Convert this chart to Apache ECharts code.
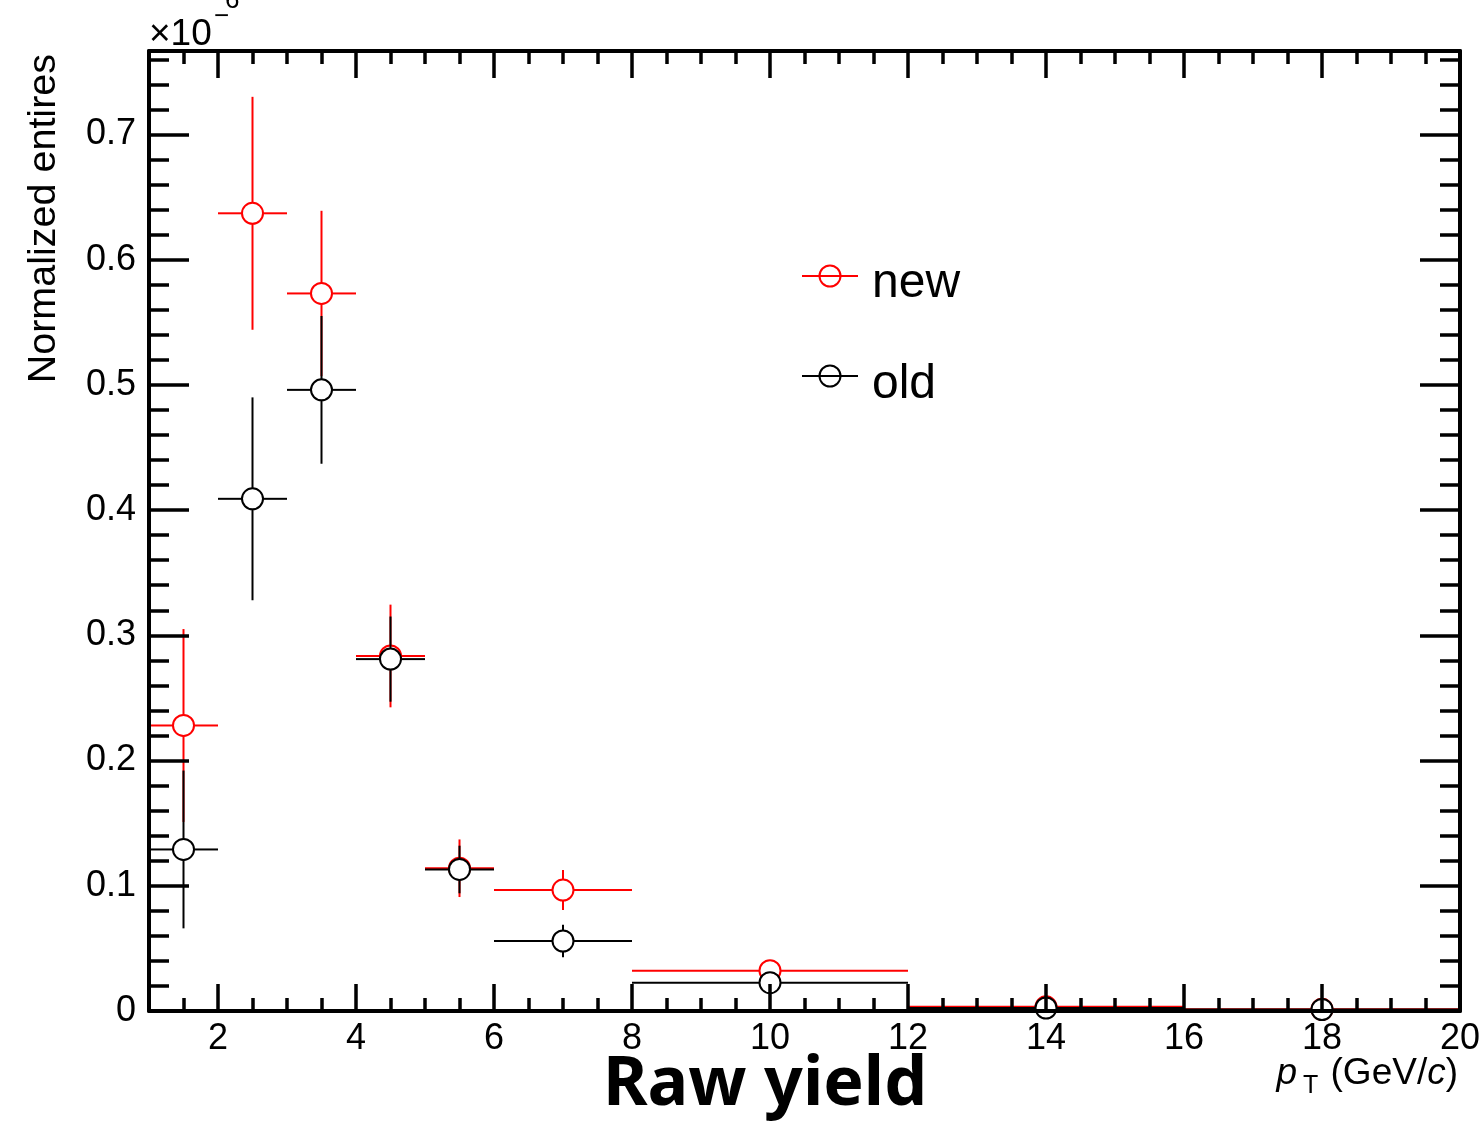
<!DOCTYPE html>
<html>
<head>
<meta charset="utf-8">
<script src="https://cdn.jsdelivr.net/npm/echarts@6/dist/echarts.min.js"></script>
<style>
  html, body { margin: 0; padding: 0; background: #fff; }
  #chart { width: 1481px; height: 1128px; }
</style>
</head>
<body>
<div id="chart"></div>
<script>
// ---- data (pT bins in GeV/c, values in units of 1e-6) ----
const binLow    = [1, 2, 3, 4, 5, 6, 8, 12, 16];
const binHigh   = [2, 3, 4, 5, 6, 8, 12, 16, 20];
const binCenter = [1.5, 2.5, 3.5, 4.5, 5.5, 7, 10, 14, 18];

const newValues = [0.228, 0.637, 0.573, 0.2835, 0.1140, 0.0966, 0.0322, 0.0033, 0.0013];
const newErrors = [0.077, 0.093, 0.066, 0.041, 0.023, 0.016, 0.004, 0.001, 0.0005];
const oldValues = [0.129, 0.409, 0.496, 0.2810, 0.1130, 0.0559, 0.0226, 0.0024, 0.0012];
const oldErrors = [0.063, 0.081, 0.059, 0.034, 0.019, 0.013, 0.003, 0.001, 0.0005];

const xTickLabels = [2, 4, 6, 8, 10, 12, 14, 16, 18, 20];
const xMinorTicks = [1.5, 2.5, 3, 3.5, 4.5, 5, 5.5, 6.5, 7, 7.5, 8.5, 9, 9.5, 10.5, 11, 11.5,
                     12.5, 13, 13.5, 14.5, 15, 15.5, 16.5, 17, 17.5, 18.5, 19, 19.5];
const yTickLabels = [0, 0.1, 0.2, 0.3, 0.4, 0.5, 0.6, 0.7];
const yMinorTicks = [0.02, 0.04, 0.06, 0.08, 0.12, 0.14, 0.16, 0.18, 0.22, 0.24, 0.26, 0.28,
                     0.32, 0.34, 0.36, 0.38, 0.42, 0.44, 0.46, 0.48, 0.52, 0.54, 0.56, 0.58,
                     0.62, 0.64, 0.66, 0.68, 0.72, 0.74, 0.76];

const seriesNames = ['new', 'old'];
const seriesColors = ['#ff0000', '#000000'];

function buildData(values, errors) {
  return binCenter.map((c, i) => [c, values[i], binLow[i], binHigh[i], errors[i]]);
}

const R = 10.5;
function makeRender(color) {
  return function (params, api) {
    const xc = api.value(0), y = api.value(1), xl = api.value(2), xh = api.value(3), e = api.value(4);
    const c = api.coord([xc, y]);
    const pl = api.coord([xl, y]);
    const ph = api.coord([xh, y]);
    const pt = api.coord([xc, y + e]);
    const pb = api.coord([xc, Math.max(0, y - e)]);
    const ls = { stroke: color, lineWidth: 2 };
    const children = [];
    if (pl[0] < c[0] - R) children.push({ type: 'line', shape: { x1: pl[0], y1: c[1], x2: c[0] - R, y2: c[1] }, style: ls });
    if (ph[0] > c[0] + R) children.push({ type: 'line', shape: { x1: c[0] + R, y1: c[1], x2: ph[0], y2: c[1] }, style: ls });
    if (pt[1] < c[1] - R) children.push({ type: 'line', shape: { x1: c[0], y1: c[1] - R, x2: c[0], y2: pt[1] }, style: ls });
    if (pb[1] > c[1] + R) children.push({ type: 'line', shape: { x1: c[0], y1: c[1] + R, x2: c[0], y2: pb[1] }, style: ls });
    children.push({ type: 'circle', shape: { cx: c[0], cy: c[1], r: R }, style: { fill: '#fff', stroke: color, lineWidth: 2 } });
    return { type: 'group', children: children };
  };
}

const FONT = 'Liberation Sans, Arial, Helvetica, sans-serif';
const axisBlack = { color: '#000', width: 4 };

function xAx(position, ticks, len, line, labels) {
  return {
    type: 'value', position: position, min: 1, max: 20, z: 10,
    axisLine: { show: line, onZero: false, lineStyle: axisBlack },
    axisTick: { show: true, inside: true, length: len, customValues: ticks, lineStyle: { color: '#000', width: 3.5 } },
    axisLabel: labels ? { show: true, customValues: xTickLabels, fontSize: 36, fontFamily: FONT, color: '#000', margin: 10,
                          formatter: v => String(v) } : { show: false },
    splitLine: { show: false }
  };
}
function yAx(position, ticks, len, line, labels) {
  return {
    type: 'value', position: position, min: 0, max: 0.7666, z: 10,
    axisLine: { show: line, onZero: false, lineStyle: axisBlack },
    axisTick: { show: true, inside: true, length: len, customValues: ticks, lineStyle: { color: '#000', width: 3.5 } },
    axisLabel: labels ? { show: true, customValues: yTickLabels, fontSize: 36, fontFamily: FONT, color: '#000', margin: 13,
                          formatter: v => (v === 0 ? '0' : v.toFixed(1)) } : { show: false },
    splitLine: { show: false }
  };
}

const chart = echarts.init(document.getElementById('chart'), null, { renderer: 'canvas' });

const option = {
  backgroundColor: '#fff',
  animation: false,
  grid: { left: 149, right: 21, top: 51, bottom: 117, containLabel: false, outerBoundsMode: 'none' },
  xAxis: [
    xAx('bottom', xTickLabels, 27, true, true),
    xAx('bottom', xMinorTicks, 13, false, false),
    xAx('top', xTickLabels, 27, true, false),
    xAx('top', xMinorTicks, 13, false, false)
  ],
  yAxis: [
    yAx('left', yTickLabels, 40, true, true),
    yAx('left', yMinorTicks, 20, false, false),
    yAx('right', yTickLabels, 40, true, false),
    yAx('right', yMinorTicks, 20, false, false)
  ],
  series: [
    { name: seriesNames[0], type: 'custom', xAxisIndex: 0, yAxisIndex: 0, clip: false, z: 2,
      renderItem: makeRender(seriesColors[0]), data: buildData(newValues, newErrors) },
    { name: seriesNames[1], type: 'custom', xAxisIndex: 0, yAxisIndex: 0, clip: false, z: 3,
      renderItem: makeRender(seriesColors[1]), data: buildData(oldValues, oldErrors) }
  ],
  graphic: [
    // legend
    { type: 'line', shape: { x1: 802, y1: 276, x2: 858, y2: 276 }, style: { stroke: seriesColors[0], lineWidth: 2 } },
    { type: 'circle', shape: { cx: 830, cy: 276, r: 10.5 }, style: { fill: 'none', stroke: seriesColors[0], lineWidth: 2 } },
    { type: 'text', x: 872, y: 284, style: { text: seriesNames[0], font: '48px ' + FONT, fill: '#000', textVerticalAlign: 'middle' } },
    { type: 'line', shape: { x1: 802, y1: 376, x2: 858, y2: 376 }, style: { stroke: seriesColors[1], lineWidth: 2 } },
    { type: 'circle', shape: { cx: 830, cy: 376, r: 10.5 }, style: { fill: 'none', stroke: seriesColors[1], lineWidth: 2 } },
    { type: 'text', x: 872, y: 385, style: { text: seriesNames[1], font: '48px ' + FONT, fill: '#000', textVerticalAlign: 'middle' } },
    // y-axis title
    { type: 'text', x: 44, y: 54, rotation: Math.PI / 2,
      style: { text: 'Normalized entires', font: '39.5px ' + FONT, fill: '#000', textAlign: 'right', textVerticalAlign: 'middle' } },
    // exponent
    { type: 'text', x: 149, y: 35, style: { text: '×10', font: '37px ' + FONT, fill: '#000', textVerticalAlign: 'middle' } },
    { type: 'text', x: 214, y: 17, style: { text: '−', font: '26px ' + FONT, fill: '#000', textVerticalAlign: 'middle' } },
    { type: 'text', x: 225, y: 14, style: { text: '6', font: '26px ' + FONT, fill: '#000', textVerticalAlign: 'bottom' } },
    // x-axis title
    { type: 'text', x: 1458, y: 1074,
      style: { text: '{i|p}{s|T}{n| (GeV/}{i|c}{n|)}', textAlign: 'right', textVerticalAlign: 'middle',
               rich: {
                 i: { fontStyle: 'italic', fontSize: 37, fontFamily: FONT, fill: '#000', color: '#000' },
                 n: { fontSize: 37, fontFamily: FONT, fill: '#000', color: '#000' },
                 s: { fontSize: 25, fontFamily: FONT, fill: '#000', color: '#000', padding: [24, 2, 0, 6] }
               } } },
    // title
    { type: 'text', x: 765, y: 1086,
      style: { text: 'Raw yield', font: 'bold 68px "Noto Sans", "Open Sans", sans-serif', fill: '#000',
               textAlign: 'center', textVerticalAlign: 'middle' } }
  ]
};
chart.setOption(option);
</script>
</body>
</html>
